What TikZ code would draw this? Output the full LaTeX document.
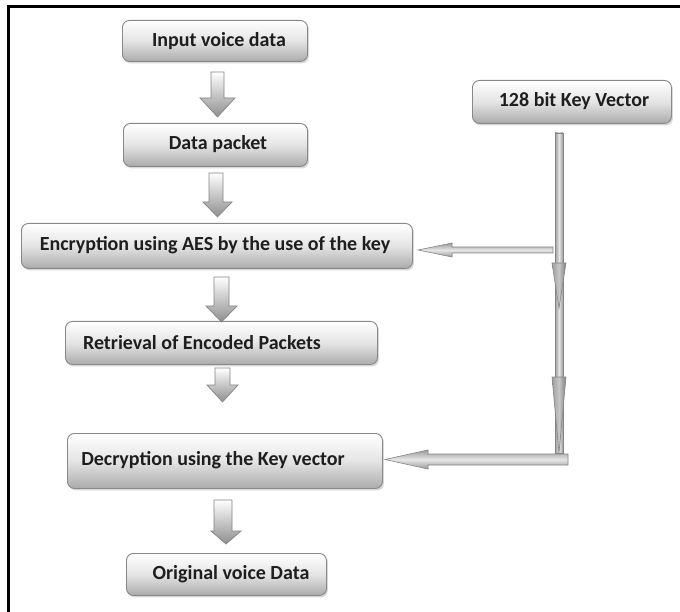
\documentclass[tikz,border=0pt]{standalone}
\usepackage{fontspec}
\setmainfont{Carlito}
\usetikzlibrary{shadows}
\definecolor{boxline}{HTML}{888888}
\definecolor{boxmid}{HTML}{E4E4E4}
\definecolor{boxlow}{HTML}{ABABAB}
\definecolor{txt}{HTML}{1E1E1E}
\definecolor{arrline}{HTML}{858585}
\definecolor{arrlow}{HTML}{8E8E8E}
\definecolor{keylow}{HTML}{9A9A9A}
\definecolor{keyhead}{HTML}{A0A0A0}
\begin{document}
\begin{tikzpicture}[x=1pt,y=-1pt,
  box/.style={draw=boxline, line width=0.9pt, rounded corners=7pt,
    top color=white, bottom color=boxlow, middle color=boxmid,
    inner sep=0pt, anchor=north west,
    drop shadow={shadow xshift=1.5pt, shadow yshift=-2pt, opacity=0.3, fill=gray}},
  lbl/.style={text=txt, font=\bfseries\fontsize{20}{24}\selectfont, inner sep=0pt},
  blk/.style={draw=arrline, line width=0.7pt, top color=white, bottom color=arrlow},
  keyh/.style={draw=arrline, line width=0.6pt, top color=keylow, bottom color=keylow, middle color=white!90!black},
  keyv/.style={draw=arrline, line width=0.6pt, left color=keylow, right color=keylow, middle color=white!90!black},
  keytip/.style={draw=arrline, line width=0.6pt, left color=keyhead, right color=keyhead!80!black, middle color=keyhead!60}]

\useasboundingbox (0,0) rectangle (680,612);
\fill[white] (0,0) rectangle (680,612);

% frame (top and left edges)
\draw[line width=3.5pt] (8.5,612) -- (8.5,6.5) -- (680,6.5);

% process boxes
\node[box, minimum width=185pt, minimum height=41pt] (b1) at (122,20) {};
\node[box, minimum width=184pt, minimum height=43pt] (b2) at (123,123) {};
\node[box, minimum width=391pt, minimum height=45pt] (b3) at (21,223) {};
\node[box, minimum width=312pt, minimum height=43pt] (b4) at (65,321) {};
\node[box, minimum width=315pt, minimum height=55pt] (b5) at (67,433) {};
\node[box, minimum width=200pt, minimum height=42pt] (b6) at (126,553) {};
\node[box, minimum width=199pt, minimum height=43pt] (b7) at (472,80) {};

% labels
\node[lbl] (t1) at (219,41) {Input voice data};
\node[lbl] (t2) at (218,144.5) {Data packet};
\node[lbl] (t3) at (215,245.5) {Encryption using AES by the use of the key};
\node[lbl] (t4) at (202,342.5) {Retrieval of Encoded Packets};
\node[lbl] (t5) at (213,460) {Decryption using the Key vector};
\node[lbl] (t6) at (231,574) {Original voice Data};
\node[lbl] (t7) at (574,101.5) {128 bit Key Vector};

% block arrows between the steps
\draw[blk] (211,72) -- (224,72) -- (224,98) -- (235,98) -- (217.5,117) -- (200,98) -- (211,98) -- cycle;
\draw[blk] (209,173) -- (223,173) -- (223,202) -- (232,202) -- (217.5,217) -- (203,202) -- (209,202) -- cycle;
\draw[blk] (214,277) -- (229,277) -- (229,306) -- (237,306) -- (221.5,322) -- (206,306) -- (214,306) -- cycle;
\draw[blk] (215,368) -- (230,368) -- (230,385) -- (238,385) -- (222.5,402) -- (207,385) -- (215,385) -- cycle;
\draw[blk] (214,500) -- (232,500) -- (232,531) -- (241,531) -- (226,544) -- (211,531) -- (214,531) -- cycle;

% key vector feed
\coordinate (kt) at (559,133);
\draw[keyv] (555,133) rectangle (563,453);
\draw[keytip] (552,263) -- (566,263) -- (559,308) -- cycle;
\draw[keytip] (552,377) -- (566,377) -- (559,453) -- cycle;
\draw[keyh] (553,247) -- (452,247) -- (452,243) -- (418,250) -- (452,257) -- (452,253) -- (553,253) -- cycle;
\draw[keyh] (568,454) -- (428,454) -- (428,450) -- (385,459.5) -- (428,469) -- (428,465) -- (568,465) -- cycle;
\end{tikzpicture}
\end{document}
